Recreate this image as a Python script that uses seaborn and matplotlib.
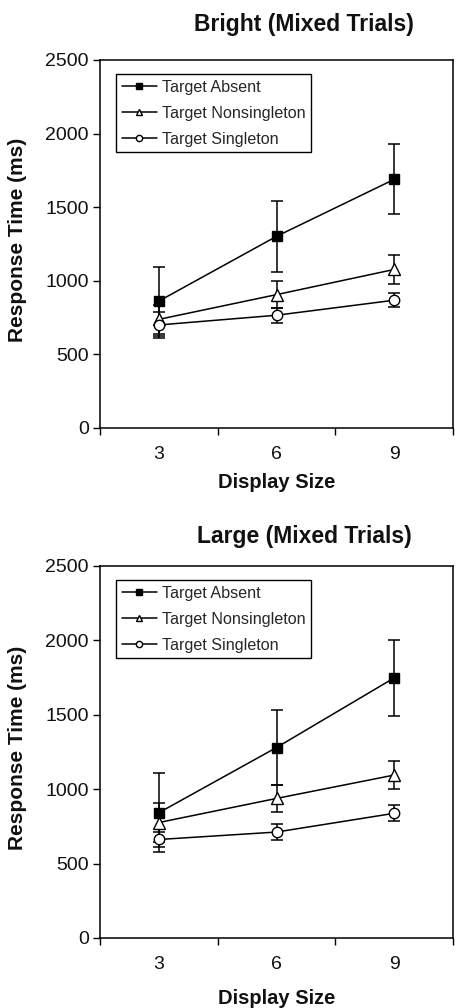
import numpy as np
import pandas as pd
import matplotlib
matplotlib.use("Agg")
import matplotlib.pyplot as plt
import seaborn as sns
from matplotlib.ticker import FixedLocator

sns.set_theme(style="white")
plt.rcParams['font.family'] = ['Liberation Sans', 'DejaVu Sans']

display_sizes = [3, 6, 9]
series_names = ["Target Absent", "Target Nonsingleton", "Target Singleton"]

# Bright (Mixed Trials)
bright_absent = [862, 1302, 1689]
bright_absent_err = [235, 240, 238]
bright_nonsingleton = [738, 906, 1077]
bright_nonsingleton_err = [100, 93, 99]
bright_singleton = [700, 766, 868]
bright_singleton_err = [87, 50, 49]

# Large (Mixed Trials)
large_absent = [842, 1280, 1748]
large_absent_err = [265, 252, 258]
large_nonsingleton = [776, 938, 1095]
large_nonsingleton_err = [129, 90, 94]
large_singleton = [662, 712, 838]
large_singleton_err = [53, 53, 53]

panel_titles = ["Bright (Mixed Trials)", "Large (Mixed Trials)"]
y_ticks = [0, 500, 1000, 1500, 2000, 2500]

styles = {
    "Target Absent": dict(marker="s", mfc="black", ms=7.5),
    "Target Nonsingleton": dict(marker="^", mfc="white", ms=8),
    "Target Singleton": dict(marker="o", mfc="white", ms=7.5),
}

panels = [
    (panel_titles[0],
     [bright_absent, bright_nonsingleton, bright_singleton],
     [bright_absent_err, bright_nonsingleton_err, bright_singleton_err]),
    (panel_titles[1],
     [large_absent, large_nonsingleton, large_singleton],
     [large_absent_err, large_nonsingleton_err, large_singleton_err]),
]

W, H = 457, 1008
fig = plt.figure(figsize=(W / 100, H / 100), dpi=100)

# axes boxes in pixels: (left, top, right, bottom)
boxes = [(100, 60, 453, 428), (100, 566, 453, 938)]
title_y = [24, 537]
xlabel_y = [482, 999]

for (title, vals, errs), (l, t, r, b), ty, xy in zip(panels, boxes, title_y, xlabel_y):
    ax = fig.add_axes([l / W, 1 - b / H, (r - l) / W, (b - t) / H])
    rows = []
    for name, v, e in zip(series_names, vals, errs):
        for x, yv, ev in zip(display_sizes, v, e):
            rows.append(dict(series=name, size=x, rt=yv, err=ev))
    df = pd.DataFrame(rows)
    for name in series_names:
        d = df[df.series == name]
        ax.errorbar(d["size"], d["rt"], yerr=d["err"], fmt="none",
                    ecolor="black", elinewidth=1.1, capsize=4, capthick=1.1,
                    zorder=2)
        st = styles[name]
        sns.lineplot(data=d, x="size", y="rt", ax=ax, color="black",
                     linewidth=1.1, marker=st["marker"],
                     markerfacecolor=st["mfc"], markeredgecolor="black",
                     markeredgewidth=1.0, markersize=st["ms"],
                     label=name, zorder=3, errorbar=None)
    ax.set_xlim(1.5, 10.5)
    ax.set_ylim(0, 2500)
    ax.set_yticks(y_ticks)
    ax.set_yticklabels([str(v) for v in y_ticks])
    ax.set_xticks(display_sizes)
    ax.set_xticklabels([str(v) for v in display_sizes])
    ax.xaxis.set_minor_locator(FixedLocator([1.5, 4.5, 7.5, 10.5]))
    ax.tick_params(axis="x", which="major", length=0, pad=13, labelsize=14,
                   colors="#111111")
    ax.tick_params(axis="x", which="minor", length=5, width=1, direction="out",
                   bottom=True, color="black")
    ax.tick_params(axis="y", which="major", length=5, width=1, direction="out",
                   left=True, labelsize=14, pad=3, color="black",
                   labelcolor="#111111")
    for sp in ax.spines.values():
        sp.set_visible(True)
        sp.set_color("black")
        sp.set_linewidth(1.1)
    ax.set_xlabel("")
    ax.set_ylabel("")
    ax.grid(False)
    leg = ax.legend(loc="upper left", bbox_to_anchor=(0.045, 0.962),
                    fontsize=11.6, frameon=True, fancybox=False,
                    edgecolor="black", framealpha=1, markerscale=0.6,
                    handlelength=2.2, handletextpad=0.3, labelspacing=0.68,
                    borderpad=0.35, borderaxespad=0.0)
    leg.get_frame().set_linewidth(1.0)
    fig.text(304 / W, 1 - ty / H, title, ha="center", va="center",
             fontsize=16.5, fontweight="bold", color="#111111")
    fig.text(277 / W, 1 - xy / H, "Display Size", ha="center", va="center",
             fontsize=14.5, fontweight="bold", color="#111111")
    fig.text(18 / W, 1 - ((t + b) / 2 - 4) / H, "Response Time (ms)",
             rotation=90, ha="center", va="center", fontsize=15,
             fontweight="bold", color="#111111")

fig.savefig("out.png", dpi=100)
